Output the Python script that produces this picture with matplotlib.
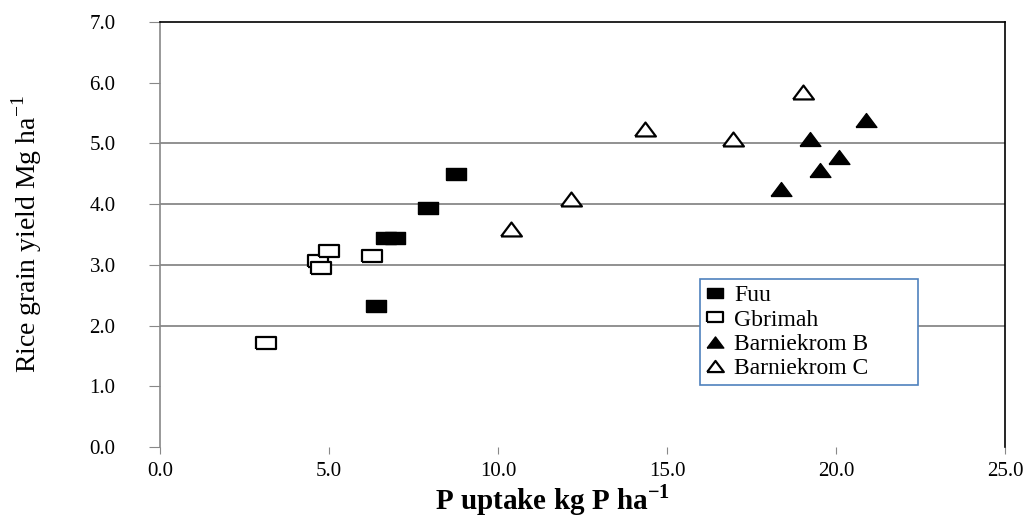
import matplotlib
matplotlib.use("Agg")
import matplotlib.pyplot as plt

plt.rcParams['font.family'] = ['Liberation Serif', 'DejaVu Serif']

# P uptake (kg P/ha) vs rice grain yield (Mg/ha)
fuu_x = [6.38, 6.70, 6.95, 7.94, 8.77]
fuu_y = [2.33, 3.44, 3.44, 3.94, 4.50]

gbr_x = [3.15, 4.66, 4.75, 4.99, 6.26]
gbr_y = [1.71, 3.06, 2.95, 3.23, 3.15]

barB_x = [20.90, 19.24, 20.08, 19.53, 18.36]
barB_y = [5.39, 5.07, 4.78, 4.56, 4.25]

barC_x = [19.03, 14.35, 16.96, 12.15, 10.38]
barC_y = [5.85, 5.24, 5.07, 4.08, 3.59]

x_ticks = [0, 5, 10, 15, 20, 25]
y_ticks = [0, 1, 2, 3, 4, 5, 6, 7]
grid_levels = [2, 3, 4, 5]

# squashed markers, the original picture is stretched sideways
rect = [(-1.5, -1), (1.5, -1), (1.5, 1), (-1.5, 1), (-1.5, -1)]
tri = [(-1.5, -1), (1.5, -1), (0, 1), (-1.5, -1)]

fig = plt.figure(figsize=(10.31, 5.25), dpi=100)
ax = fig.add_axes([0.1552, 0.1486, 0.9748 - 0.1552, 0.958 - 0.1486])

ax.hlines(grid_levels, 0, 25, colors='#888888', linewidth=1.3, zorder=1)

ax.plot(fuu_x, fuu_y, linestyle='none', marker=rect, markersize=14,
        markerfacecolor='black', markeredgecolor='black', label='Fuu', zorder=3)
ax.plot(gbr_x, gbr_y, linestyle='none', marker=rect, markersize=14, markeredgewidth=1.6,
        markerfacecolor='white', markeredgecolor='black', label='Gbrimah', zorder=3)
ax.plot(barB_x, barB_y, linestyle='none', marker=tri, markersize=15,
        markerfacecolor='black', markeredgecolor='black', label='Barniekrom B', zorder=3)
ax.plot(barC_x, barC_y, linestyle='none', marker=tri, markersize=15, markeredgewidth=1.6,
        markerfacecolor='white', markeredgecolor='black', label='Barniekrom C', zorder=3)

ax.set_xlim(0, 25)
ax.set_ylim(0, 7)
ax.set_xticks(x_ticks)
ax.set_xticklabels([f'{v:.1f}' for v in x_ticks], fontsize=15)
ax.set_yticks(y_ticks)
ax.set_yticklabels([f'{v:.1f}' for v in y_ticks], fontsize=15)
ax.tick_params(axis='y', length=8, color='#888888', pad=24)
ax.tick_params(axis='x', length=5, color='#888888', pad=6)

ax.spines['bottom'].set_visible(False)
ax.spines['left'].set_color('#888888')
ax.spines['top'].set_color('black')
ax.spines['right'].set_color('black')
for s in ax.spines.values():
    s.set_linewidth(1.2)

ax.set_xlabel(r'P uptake kg P ha$^{\mathregular{-1}}$', fontsize=21, fontweight='bold')
ax.xaxis.set_label_coords(0.464, -0.083)
ax.set_ylabel(r'Rice grain yield Mg ha$^{\mathregular{-1}}$', fontsize=20)
ax.yaxis.set_label_coords(-0.137, 0.5)

leg = ax.legend(loc='upper left', bbox_to_anchor=(0.625, 0.162, 0.286, 0.2615),
                mode='expand', fontsize=17, markerscale=0.8, handlelength=0.8,
                handletextpad=0.4, labelspacing=0.12, borderpad=0.25,
                fancybox=False, framealpha=1)
leg.get_frame().set_edgecolor('#4f81bd')
leg.get_frame().set_linewidth(1.2)

fig.savefig('out.png', dpi=100)
